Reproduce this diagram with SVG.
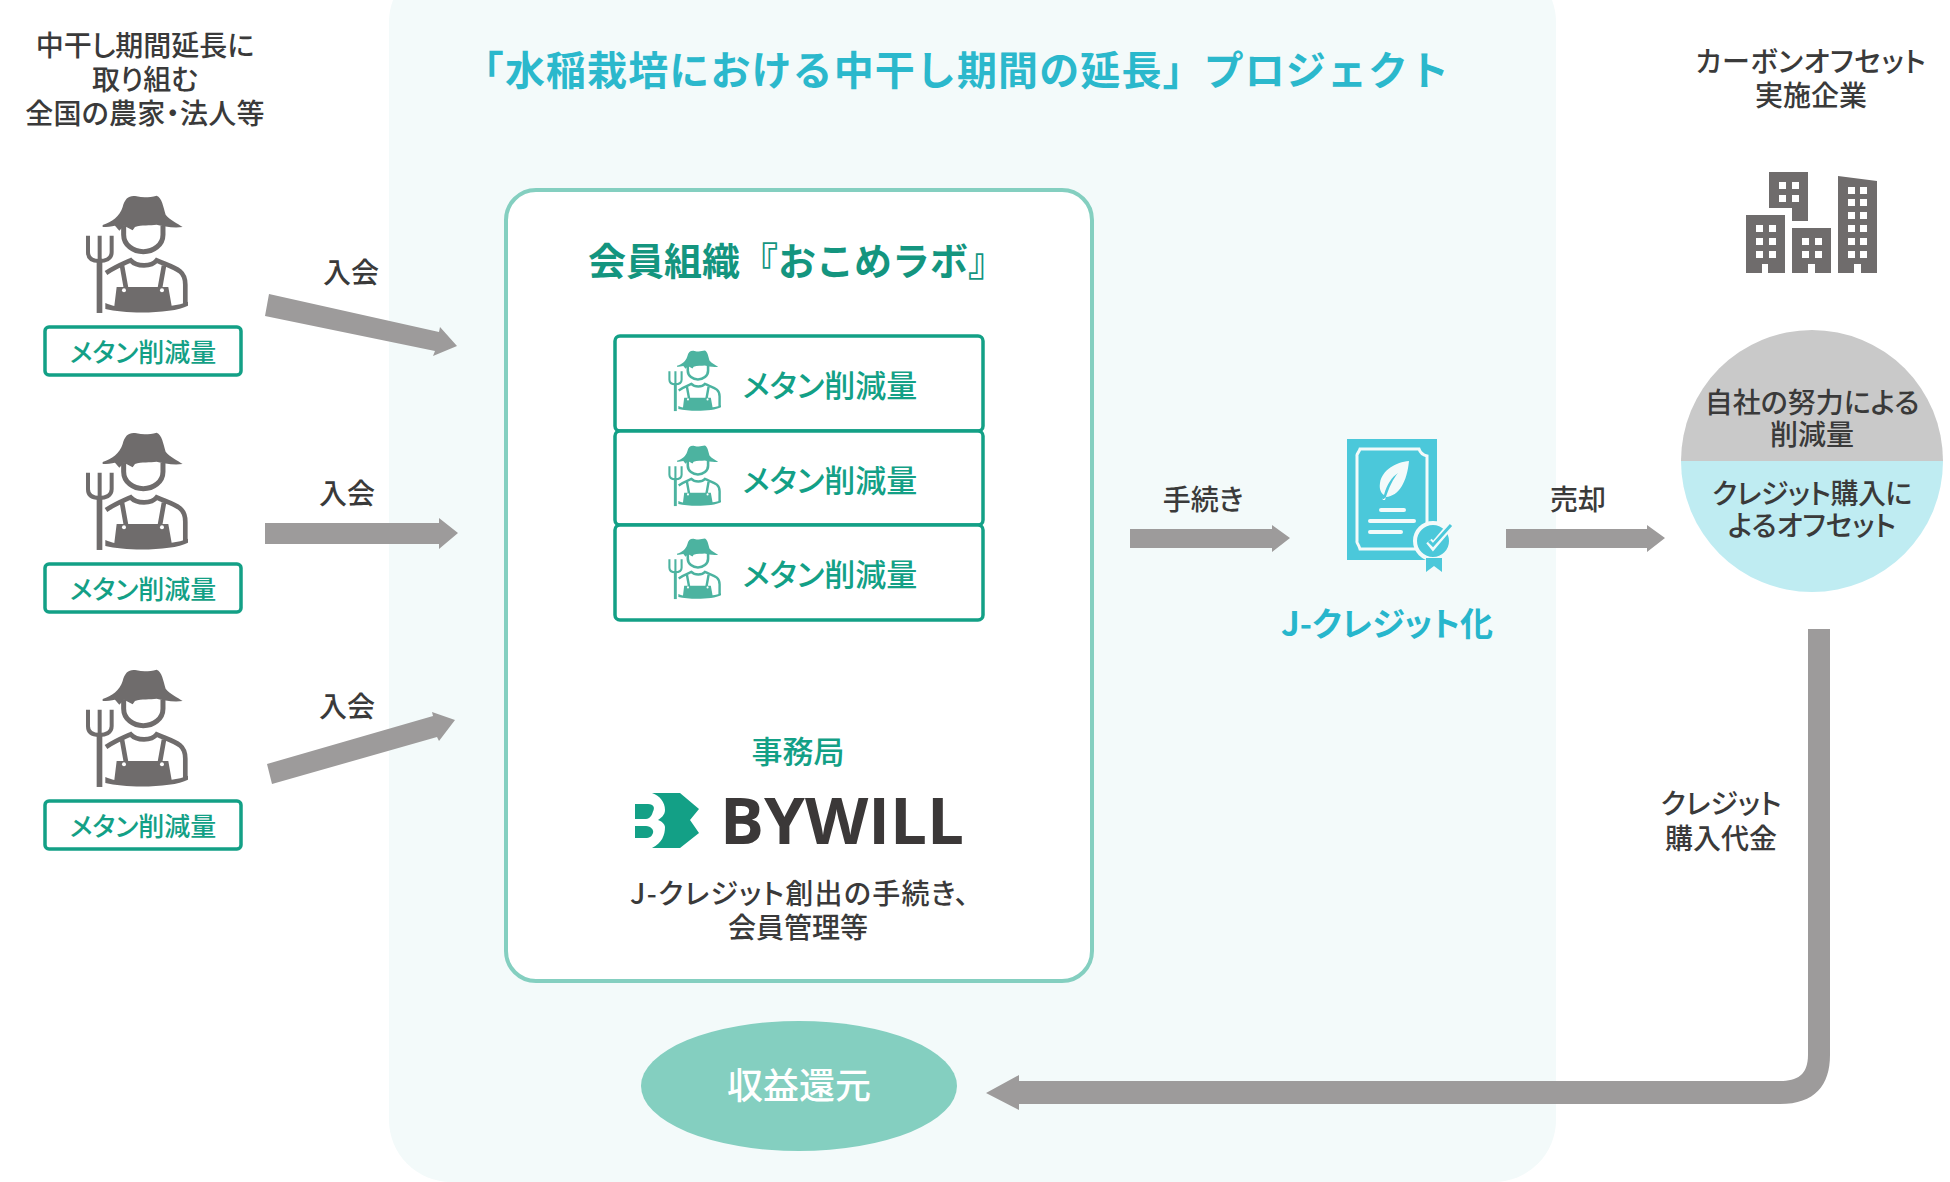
<svg xmlns="http://www.w3.org/2000/svg" xmlns:xlink="http://www.w3.org/1999/xlink" width="1950" height="1182" viewBox="0 0 1950 1182">
<style>
text{font-family:"Noto Sans CJK JP","Noto Sans",sans-serif;text-anchor:middle;font-weight:500;fill:#3a3a3a;font-size:28px;font-feature-settings:"palt"}
.tag{fill:#fff;stroke:#13a086;stroke-width:3.5}
.tagt{fill:#13a086;font-size:26px}
.rowt{fill:#13a086;font-size:31px}
.conn{fill:#9d9b9b}
.w{fill:#fff}
</style>
<defs>
<symbol id="farmer" viewBox="250 70 320 370" width="320" height="370" overflow="visible">
<g fill="currentColor">
<path d="M308 166C335 158 360 140 368 112C375 85 388 76 410 80C430 85 450 83 470 78C486 84 490 112 497 135C510 152 532 160 548 172C520 176 490 170 470 165C450 168 425 165 405 172L398 182L385 175L372 168L358 183L345 168C335 170 320 172 308 172Z"/>
<rect x="290" y="270" width="17" height="160"/>
<path d="M350 352H505L515 408C532 406 550 402 564 396V408C520 432 380 434 316 418V400C326 404 336 407 343 409Z"/>
</g>
<g fill="none" stroke="currentColor">
<path stroke-width="15" d="M371 168V195C371 226 400 246 430 246C460 246 489 226 489 195V168"/>
<path stroke-width="12" d="M264 198V248C264 268 280 274 298 274C316 274 335 268 335 248V198M299 198V270"/>
<path stroke-width="14" d="M318 310C345 292 365 284 392 272C410 292 455 292 470 272C495 284 520 290 540 305C552 315 556 330 556 345V405"/>
<path stroke-width="14" d="M366 288L378 355M492 288L480 355"/>
</g>
<circle class="w" cx="372" cy="362" r="6"/><circle class="w" cx="486" cy="362" r="6"/>
</symbol>
<rect id="tagbox" class="tag" x="0" y="0" width="196" height="48" rx="4"/>
</defs>
<rect width="1950" height="1182" fill="#fff"/>
<g id="project-panel">
<rect x="389" y="-40" width="1167" height="1222" rx="62" fill="#f3fafa"/>
<text x="957" y="85" style="fill:#2bb8cc;font-size:40px;letter-spacing:1.1px;font-weight:700;font-feature-settings:normal">「水稲栽培における中干し期間の延長」プロジェクト</text>
</g>
<g id="farmers-title">
<text x="145" y="56">中干し期間延長に</text><text x="145" y="90">取り組む</text><text x="145" y="124" style="letter-spacing:.3px">全国の農家・法人等</text>
</g>
<g id="farmer-1"><use href="#farmer" x="83.3" y="193" width="106.7" height="123.3" style="color:#6f6c6c"/><use href="#tagbox" x="45" y="327"/><text class="tagt" x="143" y="362">メタン削減量</text></g>
<g id="farmer-2"><use href="#farmer" x="83.3" y="430" width="106.7" height="123.3" style="color:#6f6c6c"/><use href="#tagbox" x="45" y="564"/><text class="tagt" x="143" y="599">メタン削減量</text></g>
<g id="farmer-3"><use href="#farmer" x="83.3" y="667" width="106.7" height="123.3" style="color:#6f6c6c"/><use href="#tagbox" x="45" y="801"/><text class="tagt" x="143" y="836">メタン削減量</text></g>
<g id="member-org">
<rect x="506" y="190" width="586" height="791" rx="30" fill="#fff" stroke="#84cfc0" stroke-width="4"/>
<text x="797" y="275" style="fill:#14957f;font-size:38px;font-weight:700;font-feature-settings:normal">会員組織『おこめラボ』</text>
</g>
<g id="row-1"><rect class="tag" x="615" y="336" width="368" height="95" rx="5"/><use href="#farmer" x="667" y="349" width="55" height="64" style="color:#4cb3a0"/><text class="rowt" x="830" y="397">メタン削減量</text></g>
<g id="row-2"><rect class="tag" x="615" y="431" width="368" height="94" rx="5"/><use href="#farmer" x="667" y="444" width="55" height="64" style="color:#4cb3a0"/><text class="rowt" x="830" y="492">メタン削減量</text></g>
<g id="row-3"><rect class="tag" x="615" y="525" width="368" height="95" rx="5"/><use href="#farmer" x="667" y="537" width="55" height="64" style="color:#4cb3a0"/><text class="rowt" x="830" y="586">メタン削減量</text></g>
<g id="secretariat">
<text x="798" y="763" style="fill:#13a086;font-size:31px">事務局</text>
<g fill="#13a086"><path d="M635 804H648C654 804 655 808 653 811.500C652 815 650 819 646 819H635Z"/><path d="M635 826H646C651 826 654 830 653 833C652 836 650 838 645 838H635Z"/>
<path d="M652 793H680L699 809L690 820L699 833L680 848H652C662 843 665 835 665 827C665 824 661 821 658 820C661 818 665 815 665 810C665 802 660 796 652 793Z"/></g>
<text x="842" y="844" textLength="244" lengthAdjust="spacingAndGlyphs" style="font-family:'Open Sans',sans-serif;font-weight:700;font-size:64px;fill:#3b3838;font-feature-settings:normal">BYWILL</text>
<text x="800" y="904" style="letter-spacing:1.3px">J-クレジット創出の手続き、</text><text x="798" y="938">会員管理等</text>
</g>
<g id="revenue"><ellipse cx="799" cy="1086" rx="158" ry="65" fill="#84cfc0"/><text x="799" y="1099" style="fill:#fff;font-size:36px">収益還元</text></g>
<g id="j-credit">
<rect x="1347" y="439" width="90" height="121" fill="#4bc8da"/>
<path d="M1360 449H1419C1420 452 1423 455 1427 456V541C1423 542 1420 545 1419 549H1360C1359 545 1356 542 1357 541H1357V456C1356 455 1359 452 1360 449Z" fill="none" stroke="#f3fafa" stroke-width="3"/>
<path d="M1409 461C1396 462 1382 470 1380 483C1379 489 1381 493 1384 495C1387 484 1392 477 1398 473C1393 479 1389 487 1385 500L1383 500L1382 498C1383 500 1384 499 1386 497C1399 496 1407 482 1409 461Z" fill="#f3fafa"/>
<path d="M1381 510H1404M1370 521H1414M1370 532H1401" stroke="#f3fafa" stroke-width="4" stroke-linecap="round" fill="none"/>
<circle cx="1433" cy="541" r="18" fill="#4bc8da" stroke="#f3fafa" stroke-width="4"/>
<path d="M1426 558V572L1434 566L1442 572V558Z" fill="#4bc8da"/>
<path d="M1429 541L1433 546L1450 526" fill="none" stroke="#f3fafa" stroke-width="7"/>
<path d="M1429 541L1433 545L1451 525" fill="none" stroke="#4bc8da" stroke-width="3"/>
<text x="1387" y="636" style="fill:#27b6cc;font-size:33px;font-weight:700">J-クレジット化</text>
</g>
<g id="company-title"><text x="1811" y="72" style="letter-spacing:.7px">カーボンオフセット</text><text x="1811" y="106">実施企業</text></g>
<g id="buildings">
<path fill="#6f6c6c" fill-rule="evenodd" d="M1746 215H1785V273H1768V264H1762V273H1746ZM1769 172H1808V221H1792V208H1769ZM1792 228H1831V273H1815V264H1808V273H1792ZM1838 176L1877 181V273H1861V264H1854V273H1838ZM1779 182h7v7h-7zM1792 182h7v7h-7zM1779 195h7v7h-7zM1792 195h7v7h-7zM1756 225h7v7h-7zM1769 225h7v7h-7zM1756 238h7v7h-7zM1769 238h7v7h-7zM1756 251h7v7h-7zM1769 251h7v7h-7zM1802 238h7v7h-7zM1815 238h7v7h-7zM1802 251h7v7h-7zM1815 251h7v7h-7zM1848 187h7v7h-7zM1860 187h7v7h-7zM1848 199h7v7h-7zM1860 199h7v7h-7zM1848 212h7v7h-7zM1860 212h7v7h-7zM1848 225h7v7h-7zM1860 225h7v7h-7zM1848 238h7v7h-7zM1860 238h7v7h-7zM1848 251h7v7h-7zM1860 251h7v7h-7z"/>
</g>
<g id="offset-circle">
<path d="M1681 461A131 131 0 0 1 1943 461Z" fill="#c9c9c9"/>
<path d="M1681 461A131 131 0 0 0 1943 461Z" fill="#bfecf2"/>
<text x="1812" y="413">自社の努力による</text><text x="1812" y="445">削減量</text>
<text x="1812" y="504" style="letter-spacing:-.5px">クレジット購入に</text><text x="1812" y="536">よるオフセット</text>
</g>
<g id="connectors">
<path class="conn" d="M269 294L439 332L440 327L457 346L433 356L435 351L265 316Z"/>
<path class="conn" d="M265 523H439V518L458 533L439 549V544H265Z"/>
<path class="conn" d="M267 764L433 716L432 712L455 720L439 741L437 737L272 784Z"/>
<path class="conn" d="M1130 529H1272V525L1290 538L1272 552V548H1130Z"/>
<path class="conn" d="M1506 529H1647V525L1665 538L1647 552V548H1506Z"/>
<path class="conn" d="M1808 629H1830V1055C1830 1085 1815 1104 1780 1104H1019V1110L986 1093L1019 1075V1081H1780C1797 1081 1808 1075 1808 1055Z"/>
</g>
<g id="connector-labels">
<text x="351" y="283">入会</text><text x="347" y="504">入会</text><text x="347" y="717">入会</text>
<text x="1203" y="510">手続き</text><text x="1578" y="510">売却</text>
<text x="1721" y="814">クレジット</text><text x="1721" y="849">購入代金</text>
</g>
</svg>
